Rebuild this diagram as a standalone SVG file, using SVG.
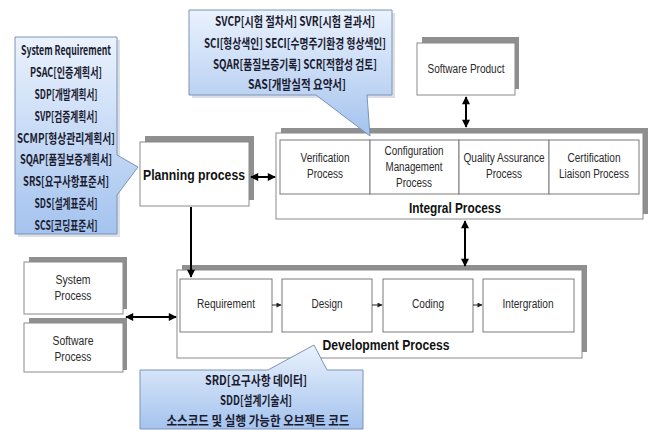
<svg xmlns="http://www.w3.org/2000/svg" width="660" height="430" viewBox="0 0 660 430">
  <defs>
    <linearGradient id="noteFill" x1="0" y1="0" x2="0" y2="1">
      <stop offset="0" stop-color="#eaf2fd"/>
      <stop offset="1" stop-color="#a4c3ee"/>
    </linearGradient>
    <marker id="head" viewBox="0 0 10 10" refX="9" refY="5" markerWidth="9" markerHeight="8" markerUnits="userSpaceOnUse" orient="auto-start-reverse">
      <path d="M0,0 L10,5 L0,10 Z" fill="#000"/>
    </marker>
    <marker id="headSmall" viewBox="0 0 10 10" refX="9" refY="5" markerWidth="6" markerHeight="5" markerUnits="userSpaceOnUse" orient="auto">
      <path d="M0,0 L10,5 L0,10 Z" fill="#222"/>
    </marker>
  </defs>
  <style>
    .shadow { fill: #8f8f8f; }
    .box { fill: #ffffff; stroke: #8a8a8a; stroke-width: 1; }
    .cell { fill: #ffffff; stroke: #7a7a7a; stroke-width: 1; }
    .lbl { font-family: "Liberation Sans", Arial, sans-serif; font-size: 12px; fill: #2a2a2a; text-anchor: middle; }
    .title { font-family: "Liberation Sans", Arial, sans-serif; font-weight: bold; fill: #111; text-anchor: middle; }
    .note { fill: url(#noteFill); stroke: #7d93b8; stroke-width: 1; }
    .noteShadow { fill: #dcdfe5; }
    .ko { font-family: "Noto Sans CJK KR", "Liberation Sans", sans-serif; font-weight: bold; font-size: 13px; fill: #1b1b30; text-anchor: middle; }
    .link { stroke: #000; stroke-width: 2; fill: none; }
    .step { stroke: #222; stroke-width: 1; fill: none; }
  </style>

  <!-- nodes -->
  <g id="software-product">
    <rect class="shadow" x="422" y="37" width="97" height="52"/>
    <rect class="box" x="417" y="43" width="98" height="52"/>
    <text class="lbl" x="466" y="73" textLength="77" lengthAdjust="spacingAndGlyphs">Software Product</text>
  </g>

  <g id="planning-process">
    <rect class="shadow" x="145" y="136" width="109" height="64"/>
    <rect class="box" x="140" y="142" width="109" height="64"/>
    <text class="title" x="194" y="180" font-size="15" textLength="102" lengthAdjust="spacingAndGlyphs">Planning process</text>
  </g>

  <g id="integral-process">
    <rect class="shadow" x="281" y="128" width="367" height="86"/>
    <rect class="box" x="276" y="133" width="367" height="86"/>
    <rect class="cell" x="280" y="140" width="90" height="54"/>
    <rect class="cell" x="370" y="140" width="89" height="54"/>
    <rect class="cell" x="459" y="140" width="90" height="54"/>
    <rect class="cell" x="549" y="140" width="90" height="54"/>
    <text class="lbl" x="325" y="162" textLength="49" lengthAdjust="spacingAndGlyphs">Verification</text>
    <text class="lbl" x="325" y="178" textLength="36" lengthAdjust="spacingAndGlyphs">Process</text>
    <text class="lbl" x="414" y="155" textLength="59" lengthAdjust="spacingAndGlyphs">Configuration</text>
    <text class="lbl" x="414" y="171" textLength="57" lengthAdjust="spacingAndGlyphs">Management</text>
    <text class="lbl" x="414" y="187" textLength="36" lengthAdjust="spacingAndGlyphs">Process</text>
    <text class="lbl" x="504" y="162" textLength="81" lengthAdjust="spacingAndGlyphs">Quality Assurance</text>
    <text class="lbl" x="504" y="178" textLength="36" lengthAdjust="spacingAndGlyphs">Process</text>
    <text class="lbl" x="594" y="162" textLength="53" lengthAdjust="spacingAndGlyphs">Certification</text>
    <text class="lbl" x="594" y="178" textLength="70" lengthAdjust="spacingAndGlyphs">Liaison Process</text>
    <text class="title" x="455" y="213" font-size="14" textLength="92" lengthAdjust="spacingAndGlyphs">Integral Process</text>
  </g>

  <g id="system-process">
    <rect class="shadow" x="29" y="257" width="98" height="52"/>
    <rect class="box" x="24" y="262" width="99" height="52"/>
    <text class="lbl" x="73" y="284" textLength="35" lengthAdjust="spacingAndGlyphs">System</text>
    <text class="lbl" x="73" y="300" textLength="37" lengthAdjust="spacingAndGlyphs">Process</text>
  </g>

  <g id="software-process">
    <rect class="shadow" x="29" y="318" width="98" height="52"/>
    <rect class="box" x="24" y="323" width="99" height="49"/>
    <text class="lbl" x="73" y="345" textLength="41" lengthAdjust="spacingAndGlyphs">Software</text>
    <text class="lbl" x="73" y="361" textLength="37" lengthAdjust="spacingAndGlyphs">Process</text>
  </g>

  <g id="development-process">
    <rect class="shadow" x="182" y="265" width="405" height="87"/>
    <rect class="box" x="177" y="270" width="405" height="88"/>
    <rect class="cell" x="180" y="279" width="92" height="53"/>
    <rect class="cell" x="282" y="279" width="90" height="53"/>
    <rect class="cell" x="383" y="279" width="90" height="53"/>
    <rect class="cell" x="483" y="279" width="91" height="53"/>
    <text class="lbl" x="226" y="308" textLength="58" lengthAdjust="spacingAndGlyphs">Requirement</text>
    <text class="lbl" x="327" y="308" textLength="31" lengthAdjust="spacingAndGlyphs">Design</text>
    <text class="lbl" x="428" y="308" textLength="32" lengthAdjust="spacingAndGlyphs">Coding</text>
    <text class="lbl" x="528" y="308" textLength="51" lengthAdjust="spacingAndGlyphs">Intergration</text>
    <text class="title" x="386" y="350" font-size="14" textLength="127" lengthAdjust="spacingAndGlyphs">Development Process</text>
  </g>

  <!-- connectors -->
  <g id="connectors">
    <line class="link" x1="251" y1="177" x2="275" y2="177" marker-start="url(#head)" marker-end="url(#head)"/>
    <line class="link" x1="466" y1="97" x2="466" y2="127" marker-start="url(#head)" marker-end="url(#head)"/>
    <line class="link" x1="191" y1="207" x2="191" y2="277" marker-end="url(#head)"/>
    <line class="link" x1="465" y1="221" x2="465" y2="266" marker-start="url(#head)" marker-end="url(#head)"/>
    <line class="link" x1="126" y1="317" x2="176" y2="317" marker-start="url(#head)" marker-end="url(#head)"/>
    <line class="step" x1="272" y1="305" x2="281" y2="305" marker-end="url(#headSmall)"/>
    <line class="step" x1="372" y1="305" x2="382" y2="305" marker-end="url(#headSmall)"/>
    <line class="step" x1="473" y1="305" x2="482" y2="305" marker-end="url(#headSmall)"/>
  </g>

  <!-- document callouts -->
  <g id="planning-docs">
    <path class="noteShadow" d="M18,40 H120 V237 H18 Z"/>
    <path class="note" d="M15,37 H117 V155 L138,167 L117,195 V234 H15 Z"/>
    <text class="ko" x="66" y="55" textLength="90" lengthAdjust="spacingAndGlyphs">System Requirement</text>
    <text class="ko" x="66" y="77" textLength="72" lengthAdjust="spacingAndGlyphs">PSAC[인증계획서]</text>
    <text class="ko" x="66" y="99" textLength="63" lengthAdjust="spacingAndGlyphs">SDP[개발계획서]</text>
    <text class="ko" x="66" y="121" textLength="63" lengthAdjust="spacingAndGlyphs">SVP[검증계획서]</text>
    <text class="ko" x="66" y="143" textLength="98" lengthAdjust="spacingAndGlyphs">SCMP[형상관리계획서]</text>
    <text class="ko" x="66" y="164" textLength="92" lengthAdjust="spacingAndGlyphs">SQAP[품질보증계획서]</text>
    <text class="ko" x="66" y="186" textLength="86" lengthAdjust="spacingAndGlyphs">SRS[요구사항표준서]</text>
    <text class="ko" x="66" y="208" textLength="63" lengthAdjust="spacingAndGlyphs">SDS[설계표준서]</text>
    <text class="ko" x="66" y="230" textLength="63" lengthAdjust="spacingAndGlyphs">SCS[코딩표준서]</text>
  </g>

  <g id="integral-docs">
    <path class="noteShadow" d="M192,13 H395 V98 H192 Z"/>
    <path class="note" d="M189,10 H392 V95 H367 L370,136 L316,95 H189 Z"/>
    <text class="ko" x="295" y="26" textLength="160" lengthAdjust="spacingAndGlyphs">SVCP[시험 절차서]  SVR[시험 결과서]</text>
    <text class="ko" x="295" y="48" textLength="182" lengthAdjust="spacingAndGlyphs">SCI[형상색인]  SECI[수명주기환경 형상색인]</text>
    <text class="ko" x="295" y="69" textLength="164" lengthAdjust="spacingAndGlyphs">SQAR[품질보증기록]  SCR[적합성 검토]</text>
    <text class="ko" x="297" y="89" textLength="98" lengthAdjust="spacingAndGlyphs">SAS[개발실적 요약서]</text>
  </g>

  <g id="development-docs">
    <path class="note" d="M140,370 H268 L314,345 L327,370 H363 V429 H140 Z"/>
    <text class="ko" x="256" y="385" textLength="102" lengthAdjust="spacingAndGlyphs">SRD[요구사항 데이터]</text>
    <text class="ko" x="256" y="405" textLength="72" lengthAdjust="spacingAndGlyphs">SDD[설계기술서]</text>
    <text class="ko" x="258" y="425" textLength="183" lengthAdjust="spacingAndGlyphs">소스코드 및 실행 가능한 오브젝트 코드</text>
  </g>
</svg>
